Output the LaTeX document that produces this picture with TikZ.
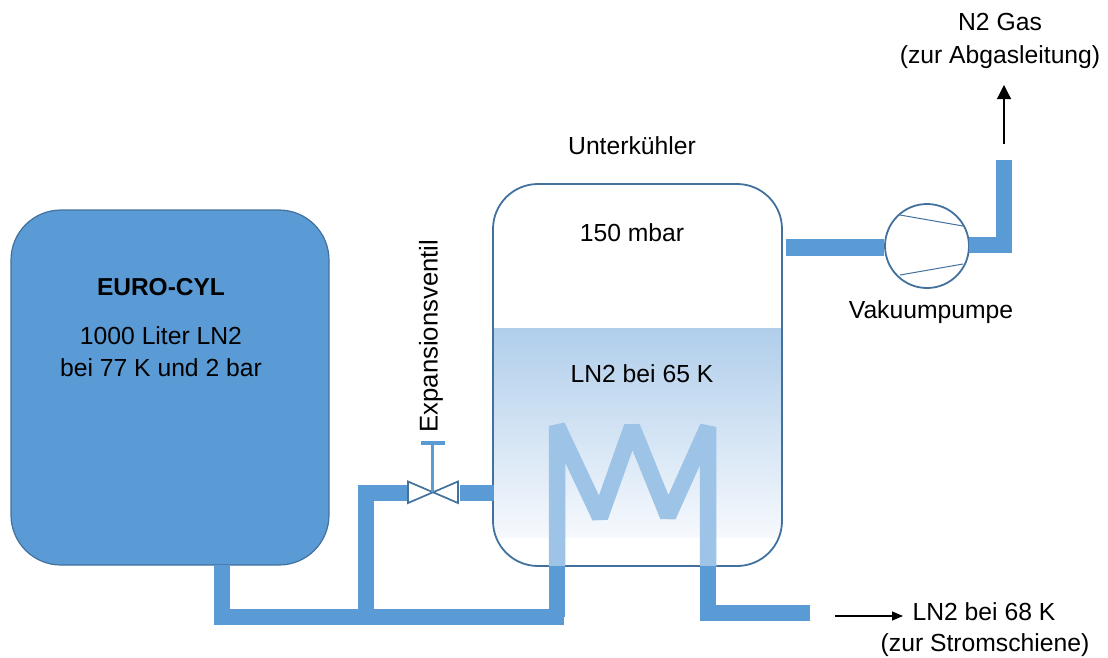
\documentclass[tikz,border=0pt]{standalone}
\usepackage{fontspec}
\setmainfont{Liberation Sans}
\usetikzlibrary{arrows.meta}
\definecolor{pipeblue}{HTML}{5B9BD5}
\definecolor{coilblue}{HTML}{9DC3E6}
\definecolor{edgeblue}{HTML}{41719C}
\definecolor{liqtop}{HTML}{B0CEEB}
\definecolor{liqbot}{HTML}{F6F9FD}
\tikzset{
 x=1pt,y=-1pt,
 lbl/.style={font=\fontsize{24.7}{29}\selectfont,text=black,inner sep=0pt,anchor=center},
 pipe/.style={draw=pipeblue,line width=16.5pt,line cap=butt,line join=miter},
 coil/.style={draw=coilblue,line width=16.5pt,line cap=butt,line join=bevel},
 thinarrow/.style={draw=black,line width=1.2pt,-{Triangle[length=14pt,width=14pt]}},
 thinarrowb/.style={draw=black,line width=1.1pt,-{Triangle[length=11pt,width=9pt]}},
 valveshape/.style={draw=edgeblue,fill=white,line width=1.7pt,line join=miter},
}
\begin{document}
\begin{tikzpicture}
\useasboundingbox (0,0) rectangle (1108,657);
% named points
\coordinate (tankout) at (222,565);
\coordinate (tankcorner) at (222,617);
\coordinate (busend) at (564,617);
\coordinate (busup) at (557,617);
\coordinate (inbot) at (557,566);
\coordinate (risefoot) at (366,617);
\coordinate (risetop) at (366,493);
\coordinate (valveL) at (407,493);
\coordinate (valveC) at (432.5,492);
\coordinate (valveR) at (460,493);
\coordinate (vesselIn) at (494,493);
\coordinate (coilA) at (557,426);
\coordinate (coilB) at (600,517);
\coordinate (coilC) at (632,427);
\coordinate (coilD) at (668,516);
\coordinate (coilE) at (708,427);
\coordinate (outtop) at (708,566);
\coordinate (outcorner) at (708,613);
\coordinate (outend) at (810,613);
\coordinate (stemtop) at (432.5,443);
\coordinate (barL) at (421,443);
\coordinate (barR) at (445,443);
% tank
\draw[fill=pipeblue,draw=edgeblue,line width=1.2pt,rounded corners=50pt] (11,210) rectangle (329,565);
% vessel liquid
\begin{scope}
\clip[rounded corners=45pt] (493,184) rectangle (782,566);
\shade[top color=liqtop,bottom color=liqbot] (493,328) rectangle (782,537);
\end{scope}
\draw[draw=edgeblue,line width=1.8pt,rounded corners=45pt] (493,184) rectangle (782,566);
% pipes
\draw[pipe] (tankout) -- (tankcorner) -- (busend);
\draw[pipe] (busup) -- (inbot);
\draw[pipe] (risefoot) -- (risetop) -- (valveL);
\draw[pipe] (valveR) -- (vesselIn);
\draw[pipe] (outtop) -- (outcorner) -- (outend);
% coil
\draw[coil] (inbot) -- (coilA) -- (coilB) -- (coilC) -- (coilD) -- (coilE) -- (outtop);
\draw[pipe,line width=1.5pt] (549,566.5) -- (565,566.5) (700,566.5) -- (716.5,566.5);
% pump pipes
\node[circle,draw=edgeblue,line width=1.8pt,fill=white,minimum size=84pt,inner sep=0pt] (pump) at (927,246) {};
\coordinate (pumpin) at (786,247.5);
\coordinate (pumpoutc) at (1004,245);
\coordinate (pumpouttop) at (1004,160);
\coordinate (arrS) at (1004,144);
\coordinate (arrE) at (1004,85);
\draw[pipe] (pumpin) -- (pump.west |- pumpin);
\draw[pipe] (968.5,245) -- (pumpoutc) -- (pumpouttop);
\draw[draw=edgeblue,line width=1pt] (900,215) -- (963,226) (900,275) -- (963,264);
% valve
\draw[valveshape] (408,481.5) -- (458,503) -- (458,481.5) -- (408,503) -- cycle;
\draw[draw=pipeblue,line width=3.5pt] (valveC) -- (stemtop);
\draw[draw=pipeblue,line width=4pt] (barL) -- (barR);
% arrows
\draw[thinarrow] (arrS) -- (arrE);
\coordinate (arrR1) at (835,616);
\coordinate (arrR2) at (903,616);
\draw[thinarrowb] (arrR1) -- (arrR2);
% labels
\node[lbl,font=\fontsize{24.5}{29}\selectfont\bfseries] (t1) at (161,287) {EURO-CYL};
\node[lbl] (t2) at (161,336) {1000 Liter LN2};
\node[lbl] (t3) at (161,368) {bei 77 K und 2 bar};
\node[lbl] (t4) at (632,146) {Unterkühler};
\node[lbl] (t5) at (632,233) {150 mbar};
\node[lbl] (t6) at (642,374) {LN2 bei 65 K};
\node[lbl] (t7) at (931,312) {Vakuumpumpe};
\node[lbl] (t8) at (1000,22) {N2 Gas};
\node[lbl] (t9) at (1000,57) {(zur Abgasleitung)};
\node[lbl] (t10) at (984,612) {LN2 bei 68 K};
\node[lbl] (t11) at (985,645) {(zur Stromschiene)};
\node[lbl,rotate=90,font=\fontsize{25.7}{29}\selectfont] (t12) at (431,336) {Expansionsventil};
\end{tikzpicture}
\end{document}
